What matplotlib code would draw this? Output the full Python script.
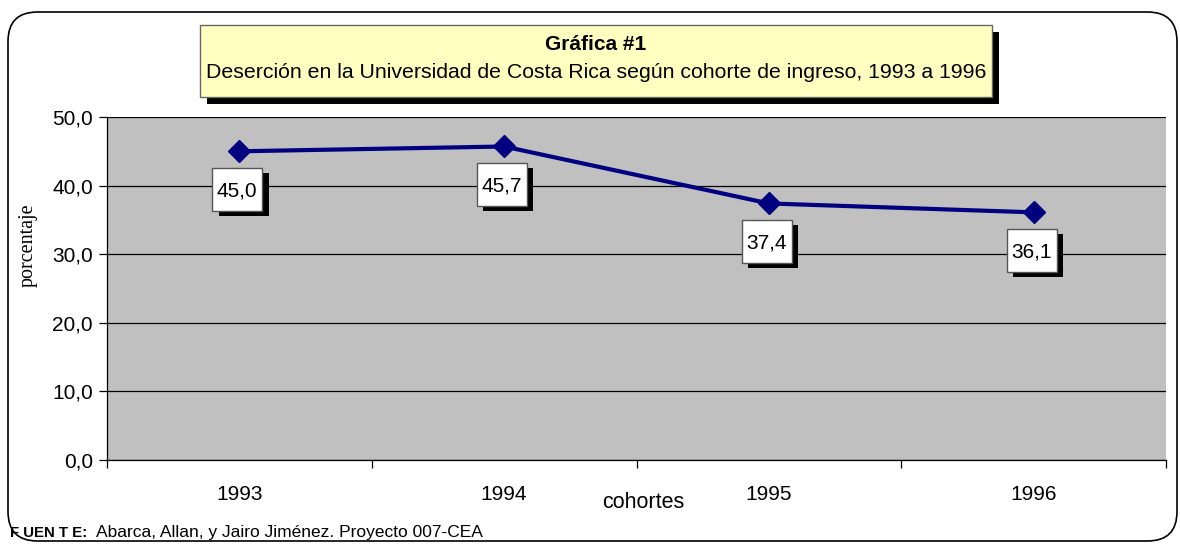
import matplotlib
matplotlib.use("Agg")
import matplotlib.pyplot as plt
import matplotlib.patheffects as pe
import matplotlib.transforms as mtransforms
from matplotlib.patches import FancyBboxPatch, Rectangle

# --------- DATI ---------
cohortes = ["1993", "1994", "1995", "1996"]
desercion = [45.0, 45.7, 37.4, 36.1]
etiquetas = ["45,0", "45,7", "37,4", "36,1"]
y_ticks = [0, 10, 20, 30, 40, 50]
y_tick_labels = ["0,0", "10,0", "20,0", "30,0", "40,0", "50,0"]

plt.rcParams["font.family"] = ["Liberation Sans", "DejaVu Sans"]

W, H = 1180, 547
fig = plt.figure(figsize=(W / 100, H / 100), dpi=100)

def px(x0, y0, x1, y1):
    # box in pixel (origine in alto a sinistra) -> frazione della figura
    return [x0 / W, 1 - y1 / H, (x1 - x0) / W, (y1 - y0) / H]

# bordo arrotondato esterno
bordo = FancyBboxPatch((8 / W, 1 - 541 / H), 1169 / W, 529 / H,
                       boxstyle="round,pad=0,rounding_size=0.025",
                       transform=fig.transFigure, facecolor="none",
                       edgecolor="black", linewidth=1.2, zorder=-1,
                       mutation_aspect=W / H)
fig.patches.append(bordo)

ax = fig.add_axes(px(107, 117, 1166, 460))
ax.set_zorder(1)
ax.set_facecolor("#C0C0C0")
x = list(range(len(cohortes)))
ax.plot(x, desercion, color="#000080", linewidth=3, marker="D",
        markersize=11, zorder=3)

# etichette: riquadro bianco con ombra nera, sotto il marcatore
for xi, yi, lab in zip(x, desercion, etiquetas):
    trans = mtransforms.Affine2D() + mtransforms.ScaledTranslation(xi, yi, ax.transData)
    box = Rectangle((-27, -60), 50, 43, transform=trans, facecolor="white",
                    edgecolor="#555555", linewidth=1, zorder=4, clip_on=False)
    box.set_path_effects([pe.SimplePatchShadow(offset=(4.5, -3.5), shadow_rgbFace="black",
                                               alpha=1), pe.Normal()])
    ax.add_patch(box)
    ax.annotate(lab, (xi, yi), xytext=(-1.5, -28.5), textcoords="offset points",
                ha="center", va="center", fontsize=15, zorder=5)

ax.set_xlim(-0.5, len(cohortes) - 0.5)
ax.set_ylim(0, 50)
ax.set_yticks(y_ticks)
ax.set_yticklabels(y_tick_labels, fontsize=15)
ax.yaxis.grid(True, color="black", linewidth=0.9)
ax.set_axisbelow(True)
ax.set_xticks(x)
ax.set_xticklabels(cohortes, fontsize=15)
ax.set_xticks([i + 0.5 for i in range(-1, len(cohortes))], minor=True)
ax.tick_params(axis="x", which="major", length=0, pad=18)
ax.tick_params(axis="x", which="minor", length=6, direction="out", width=0.9)
ax.tick_params(axis="y", length=6, direction="out", width=0.9, pad=4)
for s in ["top", "right"]:
    ax.spines[s].set_visible(False)
for s in ["left", "bottom"]:
    ax.spines[s].set_color("black")
    ax.spines[s].set_linewidth(0.9)

fig.text(643 / W, 1 - 502 / H, "cohortes", ha="center", va="center", fontsize=15.5)
fig.text(28 / W, 1 - 245 / H, "porcentaje", ha="center", va="center", rotation=90,
         fontsize=14.5, family="Liberation Serif")

# riquadro del titolo con ombra
tit = Rectangle((200 / W, 1 - 97 / H), 792 / W, 72 / H, transform=fig.transFigure,
                facecolor="#FFFFC0", edgecolor="#666666", linewidth=1, zorder=5)
tit.set_path_effects([pe.SimplePatchShadow(offset=(5, -5), shadow_rgbFace="black", alpha=1),
                      pe.Normal()])
fig.patches.append(tit)
fig.text(596 / W, 1 - 45 / H, "Gráfica #1", ha="center", va="center",
         fontsize=15, fontweight="bold", zorder=6)
fig.text(596 / W, 1 - 72 / H,
         "Deserción en la Universidad de Costa Rica según cohorte de ingreso, 1993 a 1996",
         ha="center", va="center", fontsize=15.3, zorder=6)

# fonte
fig.text(10 / W, 1 - 533 / H, "F UEN T E:", ha="left", va="center",
         fontsize=10.8, fontweight="bold")
fig.text(96 / W, 1 - 533 / H, "Abarca, Allan, y Jairo Jiménez. Proyecto 007-CEA",
         ha="left", va="center", fontsize=12.5)

plt.savefig("out.png", dpi=100)
